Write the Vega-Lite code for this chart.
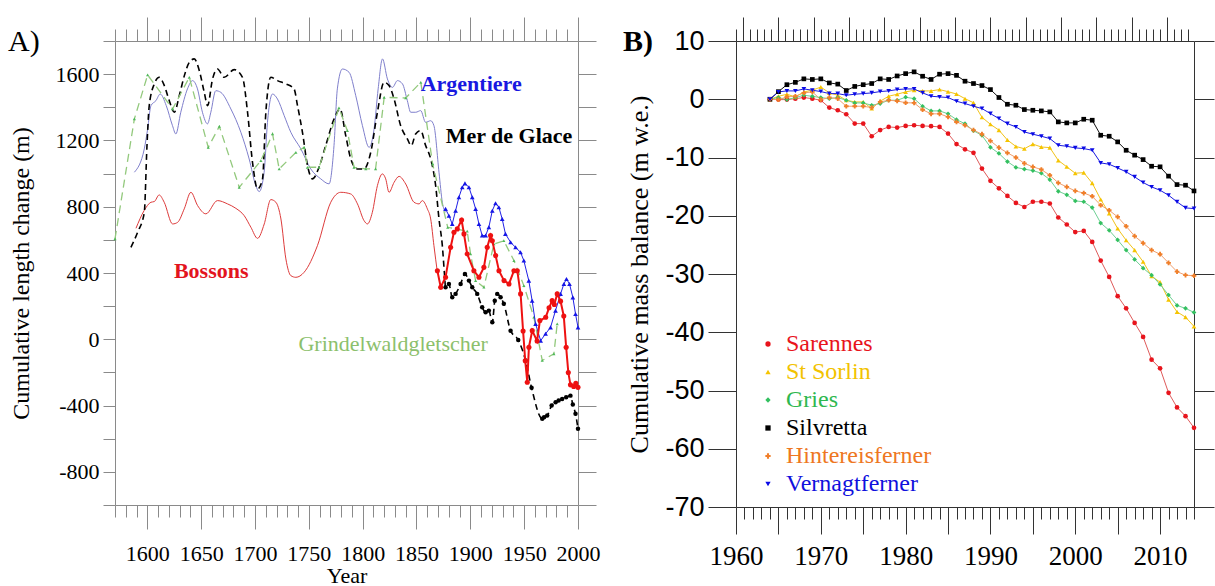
{
"$schema": "https://vega.github.io/schema/vega-lite/v6.json",
"background": "white",
"padding": {"left": 8, "top": 16, "right": 0, "bottom": 0},
"config": {"view": {"stroke": null}, "axis": {"grid": false}},
"spacing": 23,
"resolve": {"scale": {"color": "independent", "shape": "independent", "stroke": "independent"}},
"datasets": {
"A": [
{"s":"Bs","yr":1589.5,"v":670},{"s":"Bs","yr":1597,"v":776},{"s":"Bs","yr":1603.4,"v":827},{"s":"Bs","yr":1606.5,"v":831},{"s":"Bs","yr":1611,"v":871},{"s":"Bs","yr":1615.7,"v":827},{"s":"Bs","yr":1623.5,"v":696},{"s":"Bs","yr":1628.2,"v":706},{"s":"Bs","yr":1634.3,"v":787},{"s":"Bs","yr":1640.5,"v":887},{"s":"Bs","yr":1646.7,"v":807},{"s":"Bs","yr":1654.4,"v":757},{"s":"Bs","yr":1665.2,"v":837},{"s":"Bs","yr":1674.5,"v":817},{"s":"Bs","yr":1682.3,"v":790},{"s":"Bs","yr":1690,"v":746},{"s":"Bs","yr":1696.2,"v":676},{"s":"Bs","yr":1702.4,"v":609},{"s":"Bs","yr":1708.6,"v":696},{"s":"Bs","yr":1714.7,"v":843},{"s":"Bs","yr":1719.4,"v":827},{"s":"Bs","yr":1724.1,"v":726},{"s":"Bs","yr":1728.7,"v":485},{"s":"Bs","yr":1733.3,"v":384},{"s":"Bs","yr":1738,"v":374},{"s":"Bs","yr":1745.6,"v":404},{"s":"Bs","yr":1758,"v":565},{"s":"Bs","yr":1770.4,"v":827},{"s":"Bs","yr":1779.7,"v":887},{"s":"Bs","yr":1788.9,"v":877},{"s":"Bs","yr":1795.2,"v":817},{"s":"Bs","yr":1801.3,"v":716},{"s":"Bs","yr":1804.4,"v":696},{"s":"Bs","yr":1809,"v":766},{"s":"Bs","yr":1813.7,"v":927},{"s":"Bs","yr":1818.3,"v":998},{"s":"Bs","yr":1821.4,"v":968},{"s":"Bs","yr":1824.5,"v":887},{"s":"Bs","yr":1829.2,"v":947},{"s":"Bs","yr":1833.8,"v":983},{"s":"Bs","yr":1840,"v":937},{"s":"Bs","yr":1847.7,"v":827},{"s":"Bs","yr":1852.4,"v":817},{"s":"Bs","yr":1855.4,"v":837},{"s":"Bs","yr":1860.1,"v":787},{"s":"Bs","yr":1863.2,"v":726},{"s":"Bs","yr":1866.2,"v":565},{"s":"Bs","yr":1869.4,"v":404},
{"s":"Bo","yr":1869.4,"v":414},{"s":"Bo","yr":1872.5,"v":314},{"s":"Bo","yr":1877,"v":374},{"s":"Bo","yr":1881.7,"v":555},{"s":"Bo","yr":1884.8,"v":646},{"s":"Bo","yr":1887.9,"v":666},{"s":"Bo","yr":1891.9,"v":720},{"s":"Bo","yr":1894.1,"v":636},{"s":"Bo","yr":1897.1,"v":515},{"s":"Bo","yr":1903.3,"v":414},{"s":"Bo","yr":1908,"v":374},{"s":"Bo","yr":1912.6,"v":434},{"s":"Bo","yr":1915.7,"v":555},{"s":"Bo","yr":1918.8,"v":626},{"s":"Bo","yr":1920.4,"v":595},{"s":"Bo","yr":1923.5,"v":505},{"s":"Bo","yr":1926.6,"v":414},{"s":"Bo","yr":1931.3,"v":354},{"s":"Bo","yr":1935.9,"v":334},{"s":"Bo","yr":1940.5,"v":414},{"s":"Bo","yr":1943.6,"v":414},{"s":"Bo","yr":1946.7,"v":274},{"s":"Bo","yr":1949,"v":50},{"s":"Bo","yr":1951,"v":-130},{"s":"Bo","yr":1952.9,"v":-259},{"s":"Bo","yr":1954.4,"v":-48},{"s":"Bo","yr":1957.5,"v":52},{"s":"Bo","yr":1962,"v":-10},{"s":"Bo","yr":1964.6,"v":113},{"s":"Bo","yr":1970,"v":133},{"s":"Bo","yr":1973.1,"v":190},{"s":"Bo","yr":1976,"v":233},{"s":"Bo","yr":1978,"v":210},{"s":"Bo","yr":1980.7,"v":274},{"s":"Bo","yr":1983.8,"v":230},{"s":"Bo","yr":1986.8,"v":140},{"s":"Bo","yr":1989,"v":-48},{"s":"Bo","yr":1991,"v":-200},{"s":"Bo","yr":1993,"v":-275},{"s":"Bo","yr":1996,"v":-285},{"s":"Bo","yr":1998,"v":-265},{"s":"Bo","yr":2000,"v":-290},
{"s":"As","yr":1588,"v":1008},{"s":"As","yr":1597.2,"v":1149},{"s":"As","yr":1600.3,"v":1269},{"s":"As","yr":1603.4,"v":1410},{"s":"As","yr":1608,"v":1440},{"s":"As","yr":1612,"v":1480},{"s":"As","yr":1617.6,"v":1410},{"s":"As","yr":1623.4,"v":1289},{"s":"As","yr":1626.5,"v":1239},{"s":"As","yr":1631.1,"v":1370},{"s":"As","yr":1637.3,"v":1511},{"s":"As","yr":1642,"v":1561},{"s":"As","yr":1646.6,"v":1511},{"s":"As","yr":1651.2,"v":1370},{"s":"As","yr":1655.9,"v":1300},{"s":"As","yr":1659,"v":1370},{"s":"As","yr":1663.6,"v":1500},{"s":"As","yr":1668.3,"v":1490},{"s":"As","yr":1677.6,"v":1390},{"s":"As","yr":1686.9,"v":1249},{"s":"As","yr":1694.6,"v":1088},{"s":"As","yr":1700.8,"v":927},{"s":"As","yr":1703.9,"v":891},{"s":"As","yr":1708.5,"v":1008},{"s":"As","yr":1711.6,"v":1309},{"s":"As","yr":1716.3,"v":1480},{"s":"As","yr":1720.9,"v":1450},{"s":"As","yr":1727.1,"v":1350},{"s":"As","yr":1733.3,"v":1249},{"s":"As","yr":1742.6,"v":1149},{"s":"As","yr":1751.8,"v":1028},{"s":"As","yr":1761.1,"v":968},{"s":"As","yr":1768.8,"v":938},{"s":"As","yr":1773.4,"v":1169},{"s":"As","yr":1776.5,"v":1511},{"s":"As","yr":1781.2,"v":1631},{"s":"As","yr":1787.4,"v":1611},{"s":"As","yr":1793.6,"v":1470},{"s":"As","yr":1799.8,"v":1289},{"s":"As","yr":1806,"v":1158},{"s":"As","yr":1810.6,"v":1269},{"s":"As","yr":1814.4,"v":1511},{"s":"As","yr":1818.4,"v":1692},{"s":"As","yr":1823,"v":1571},{"s":"As","yr":1827.7,"v":1520},{"s":"As","yr":1832.3,"v":1561},{"s":"As","yr":1837,"v":1541},{"s":"As","yr":1841.5,"v":1440},{"s":"As","yr":1844.6,"v":1370},{"s":"As","yr":1849.3,"v":1370},{"s":"As","yr":1853.9,"v":1380},{"s":"As","yr":1858.5,"v":1309},{"s":"As","yr":1863.2,"v":1319},{"s":"As","yr":1866.2,"v":1289},{"s":"As","yr":1870.9,"v":1008},{"s":"As","yr":1874,"v":827},{"s":"As","yr":1877,"v":766},
{"s":"Ao","yr":1877,"v":787},{"s":"Ao","yr":1880.1,"v":746},{"s":"Ao","yr":1883.2,"v":696},{"s":"Ao","yr":1886.3,"v":776},{"s":"Ao","yr":1889.4,"v":857},{"s":"Ao","yr":1892.5,"v":917},{"s":"Ao","yr":1895,"v":941},{"s":"Ao","yr":1898.7,"v":917},{"s":"Ao","yr":1901.8,"v":857},{"s":"Ao","yr":1904.9,"v":787},{"s":"Ao","yr":1908,"v":696},{"s":"Ao","yr":1911,"v":626},{"s":"Ao","yr":1914.2,"v":626},{"s":"Ao","yr":1917.2,"v":676},{"s":"Ao","yr":1920.4,"v":776},{"s":"Ao","yr":1923.4,"v":821},{"s":"Ao","yr":1926.5,"v":797},{"s":"Ao","yr":1929.6,"v":726},{"s":"Ao","yr":1932.6,"v":636},{"s":"Ao","yr":1937.4,"v":585},{"s":"Ao","yr":1942,"v":555},{"s":"Ao","yr":1946.6,"v":525},{"s":"Ao","yr":1949.7,"v":475},{"s":"Ao","yr":1954.3,"v":354},{"s":"Ao","yr":1957.4,"v":233},{"s":"Ao","yr":1960.6,"v":93},{"s":"Ao","yr":1965.3,"v":-8},{"s":"Ao","yr":1969.9,"v":33},{"s":"Ao","yr":1974.5,"v":72},{"s":"Ao","yr":1979.1,"v":173},{"s":"Ao","yr":1983.8,"v":274},{"s":"Ao","yr":1986.9,"v":334},{"s":"Ao","yr":1989.3,"v":364},{"s":"Ao","yr":1992.1,"v":334},{"s":"Ao","yr":1995.2,"v":253},{"s":"Ao","yr":1997.7,"v":153},{"s":"Ao","yr":2000,"v":72},
{"s":"Ms","yr":1584.8,"v":555},{"s":"Ms","yr":1591,"v":646},{"s":"Ms","yr":1597.2,"v":766},{"s":"Ms","yr":1599.7,"v":1169},{"s":"Ms","yr":1601.8,"v":1410},{"s":"Ms","yr":1606.5,"v":1541},{"s":"Ms","yr":1611.1,"v":1581},{"s":"Ms","yr":1615.8,"v":1531},{"s":"Ms","yr":1620.4,"v":1440},{"s":"Ms","yr":1625.1,"v":1370},{"s":"Ms","yr":1629.7,"v":1470},{"s":"Ms","yr":1634.4,"v":1591},{"s":"Ms","yr":1639,"v":1671},{"s":"Ms","yr":1643.6,"v":1692},{"s":"Ms","yr":1648.3,"v":1621},{"s":"Ms","yr":1652.9,"v":1490},{"s":"Ms","yr":1656,"v":1410},{"s":"Ms","yr":1660.6,"v":1571},{"s":"Ms","yr":1665.2,"v":1631},{"s":"Ms","yr":1671.4,"v":1581},{"s":"Ms","yr":1680.7,"v":1627},{"s":"Ms","yr":1688.4,"v":1581},{"s":"Ms","yr":1693.1,"v":1370},{"s":"Ms","yr":1697.7,"v":1068},{"s":"Ms","yr":1702.4,"v":907},{"s":"Ms","yr":1707,"v":968},{"s":"Ms","yr":1710.1,"v":1370},{"s":"Ms","yr":1714.7,"v":1581},{"s":"Ms","yr":1720.9,"v":1561},{"s":"Ms","yr":1728.6,"v":1541},{"s":"Ms","yr":1736.3,"v":1511},{"s":"Ms","yr":1739.5,"v":1410},{"s":"Ms","yr":1744.1,"v":1249},{"s":"Ms","yr":1748.8,"v":1048},{"s":"Ms","yr":1753.3,"v":968},{"s":"Ms","yr":1759.5,"v":1038},{"s":"Ms","yr":1765.7,"v":1169},{"s":"Ms","yr":1773.5,"v":1330},{"s":"Ms","yr":1779,"v":1390},{"s":"Ms","yr":1784.3,"v":1229},{"s":"Ms","yr":1789,"v":1088},{"s":"Ms","yr":1795.1,"v":1028},{"s":"Ms","yr":1801.3,"v":1028},{"s":"Ms","yr":1807.5,"v":1128},{"s":"Ms","yr":1813.7,"v":1370},{"s":"Ms","yr":1819.9,"v":1551},{"s":"Ms","yr":1824.5,"v":1531},{"s":"Ms","yr":1829.2,"v":1450},{"s":"Ms","yr":1835.3,"v":1289},{"s":"Ms","yr":1841.5,"v":1209},{"s":"Ms","yr":1845.2,"v":1169},{"s":"Ms","yr":1849.2,"v":1239},{"s":"Ms","yr":1853.9,"v":1259},{"s":"Ms","yr":1858.5,"v":1169},{"s":"Ms","yr":1863.2,"v":1088},{"s":"Ms","yr":1867.8,"v":927},{"s":"Ms","yr":1870.9,"v":726},{"s":"Ms","yr":1874,"v":565},{"s":"Ms","yr":1876.1,"v":384},
{"s":"Mo","yr":1877,"v":314},{"s":"Mo","yr":1880.1,"v":334},{"s":"Mo","yr":1883.2,"v":253},{"s":"Mo","yr":1886.3,"v":274},{"s":"Mo","yr":1891,"v":334},{"s":"Mo","yr":1895,"v":394},{"s":"Mo","yr":1898.7,"v":354},{"s":"Mo","yr":1901.8,"v":314},{"s":"Mo","yr":1906.4,"v":274},{"s":"Mo","yr":1911,"v":193},{"s":"Mo","yr":1914.2,"v":163},{"s":"Mo","yr":1917.2,"v":173},{"s":"Mo","yr":1920.4,"v":103},{"s":"Mo","yr":1922.7,"v":233},{"s":"Mo","yr":1925,"v":274},{"s":"Mo","yr":1928.1,"v":253},{"s":"Mo","yr":1931.1,"v":214},{"s":"Mo","yr":1937.4,"v":52},{"s":"Mo","yr":1944.5,"v":-4},{"s":"Mo","yr":1951.3,"v":-128},{"s":"Mo","yr":1956.9,"v":-293},{"s":"Mo","yr":1966.8,"v":-480},{"s":"Mo","yr":1968.5,"v":-470},{"s":"Mo","yr":1971.4,"v":-460},{"s":"Mo","yr":1975.5,"v":-400},{"s":"Mo","yr":1979.2,"v":-380},{"s":"Mo","yr":1982,"v":-370},{"s":"Mo","yr":1985.3,"v":-360},{"s":"Mo","yr":1989,"v":-350},{"s":"Mo","yr":1993,"v":-340},{"s":"Mo","yr":1995.2,"v":-394},{"s":"Mo","yr":1997.7,"v":-450},{"s":"Mo","yr":2000,"v":-540},
{"s":"G","yr":1570,"v":606},{"s":"G","yr":1588,"v":1330},{"s":"G","yr":1600.3,"v":1595},{"s":"G","yr":1623.5,"v":1390},{"s":"G","yr":1639,"v":1581},{"s":"G","yr":1656.6,"v":1158},{"s":"G","yr":1666.9,"v":1285},{"s":"G","yr":1685.4,"v":917},{"s":"G","yr":1705.5,"v":1078},{"s":"G","yr":1716.3,"v":1239},{"s":"G","yr":1722.5,"v":1028},{"s":"G","yr":1738,"v":1128},{"s":"G","yr":1745.6,"v":1158},{"s":"G","yr":1748.7,"v":1038},{"s":"G","yr":1759.5,"v":1038},{"s":"G","yr":1778,"v":1396},{"s":"G","yr":1785.8,"v":1259},{"s":"G","yr":1792,"v":1038},{"s":"G","yr":1802.9,"v":1028},{"s":"G","yr":1812,"v":1028},{"s":"G","yr":1820,"v":1460},{"s":"G","yr":1840,"v":1456},{"s":"G","yr":1854,"v":1551},{"s":"G","yr":1865,"v":1058},{"s":"G","yr":1879,"v":676},{"s":"G","yr":1897.1,"v":652},{"s":"G","yr":1900.2,"v":515},{"s":"G","yr":1904.9,"v":354},{"s":"G","yr":1912.6,"v":314},{"s":"G","yr":1921.9,"v":575},{"s":"G","yr":1931.1,"v":595},{"s":"G","yr":1940.5,"v":475},{"s":"G","yr":1949.7,"v":324},{"s":"G","yr":1959,"v":133},{"s":"G","yr":1966.8,"v":-128},{"s":"G","yr":1977.6,"v":-88},{"s":"G","yr":1980.7,"v":93}
],
"Alab": [
{"t":"Argentiere","yr":1853.9,"v":1543},
{"t":"Mer de Glace","yr":1877.1,"v":1229},
{"t":"Bossons","yr":1624.7,"v":414},
{"t":"Grindelwaldgletscher","yr":1740.4,"v":-28}
],
"B": [
{"yr":1964,"Sarennes":0,"St Sorlin":0,"Gries":0,"Silvretta":0,"Hintereisferner":0,"Vernagtferner":0},
{"yr":1965,"Sarennes":-0.06,"St Sorlin":0.5,"Gries":0.29,"Silvretta":1.3,"Hintereisferner":-0.06,"Vernagtferner":1.26},
{"yr":1966,"Sarennes":-0.06,"St Sorlin":0.86,"Gries":-0.06,"Silvretta":2.5,"Hintereisferner":0.4,"Vernagtferner":1.43},
{"yr":1967,"Sarennes":0.1,"St Sorlin":0.4,"Gries":0.29,"Silvretta":2.9,"Hintereisferner":0.52,"Vernagtferner":1.43},
{"yr":1968,"Sarennes":0.29,"St Sorlin":1.26,"Gries":0.69,"Silvretta":3.5,"Hintereisferner":1.09,"Vernagtferner":1.77},
{"yr":1969,"Sarennes":0.1,"St Sorlin":1.55,"Gries":0.5,"Silvretta":3.4,"Hintereisferner":1.26,"Vernagtferner":1.55},
{"yr":1970,"Sarennes":-0.17,"St Sorlin":2.1,"Gries":0.29,"Silvretta":3.5,"Hintereisferner":-0.06,"Vernagtferner":1.32},
{"yr":1971,"Sarennes":-1.43,"St Sorlin":1.09,"Gries":0.1,"Silvretta":2.8,"Hintereisferner":0.29,"Vernagtferner":0.97},
{"yr":1972,"Sarennes":-1.89,"St Sorlin":0.69,"Gries":0.29,"Silvretta":2.6,"Hintereisferner":0.1,"Vernagtferner":0.97},
{"yr":1973,"Sarennes":-2.58,"St Sorlin":-0.17,"Gries":-0.17,"Silvretta":1.5,"Hintereisferner":-1.2,"Vernagtferner":0.69},
{"yr":1974,"Sarennes":-4.18,"St Sorlin":-0.46,"Gries":-0.63,"Silvretta":2.2,"Hintereisferner":-1.2,"Vernagtferner":0.86},
{"yr":1975,"Sarennes":-4.18,"St Sorlin":-0.46,"Gries":-0.63,"Silvretta":2.5,"Hintereisferner":-1.2,"Vernagtferner":0.97},
{"yr":1976,"Sarennes":-6.35,"St Sorlin":-1.6,"Gries":-1.03,"Silvretta":2.7,"Hintereisferner":-1.43,"Vernagtferner":1.09},
{"yr":1977,"Sarennes":-5.3,"St Sorlin":-0.34,"Gries":-0.74,"Silvretta":3.5,"Hintereisferner":-0.46,"Vernagtferner":1.32},
{"yr":1978,"Sarennes":-4.75,"St Sorlin":0.52,"Gries":-0.17,"Silvretta":3.4,"Hintereisferner":-0.17,"Vernagtferner":1.43},
{"yr":1979,"Sarennes":-4.86,"St Sorlin":0.86,"Gries":-0.17,"Silvretta":4.0,"Hintereisferner":-0.29,"Vernagtferner":1.66},
{"yr":1980,"Sarennes":-4.58,"St Sorlin":1.26,"Gries":0.35,"Silvretta":4.4,"Hintereisferner":-0.6,"Vernagtferner":1.77},
{"yr":1981,"Sarennes":-4.46,"St Sorlin":1.55,"Gries":0.1,"Silvretta":4.7,"Hintereisferner":-0.63,"Vernagtferner":1.77},
{"yr":1982,"Sarennes":-4.58,"St Sorlin":1.43,"Gries":-1.2,"Silvretta":3.95,"Hintereisferner":-1.8,"Vernagtferner":1.09},
{"yr":1983,"Sarennes":-4.63,"St Sorlin":1.43,"Gries":-2.0,"Silvretta":3.4,"Hintereisferner":-2.5,"Vernagtferner":0.52},
{"yr":1984,"Sarennes":-4.75,"St Sorlin":1.66,"Gries":-2.0,"Silvretta":4.3,"Hintereisferner":-2.5,"Vernagtferner":0.4},
{"yr":1985,"Sarennes":-5.9,"St Sorlin":1.3,"Gries":-2.5,"Silvretta":4.4,"Hintereisferner":-3.03,"Vernagtferner":0.29},
{"yr":1986,"Sarennes":-7.7,"St Sorlin":0.9,"Gries":-3.5,"Silvretta":4.1,"Hintereisferner":-3.9,"Vernagtferner":-0.34},
{"yr":1987,"Sarennes":-8.6,"St Sorlin":0.1,"Gries":-4.2,"Silvretta":3.1,"Hintereisferner":-4.46,"Vernagtferner":-0.74},
{"yr":1988,"Sarennes":-9.2,"St Sorlin":-0.6,"Gries":-5.4,"Silvretta":2.7,"Hintereisferner":-5.3,"Vernagtferner":-1.2},
{"yr":1989,"Sarennes":-11.9,"St Sorlin":-3.1,"Gries":-6.2,"Silvretta":2.35,"Hintereisferner":-6.0,"Vernagtferner":-1.6},
{"yr":1990,"Sarennes":-14.0,"St Sorlin":-4.3,"Gries":-8.25,"Silvretta":1.66,"Hintereisferner":-7.15,"Vernagtferner":-2.46},
{"yr":1991,"Sarennes":-15.3,"St Sorlin":-5.3,"Gries":-9.3,"Silvretta":0.3,"Hintereisferner":-8.3,"Vernagtferner":-3.32},
{"yr":1992,"Sarennes":-16.6,"St Sorlin":-7.0,"Gries":-10.7,"Silvretta":-0.86,"Hintereisferner":-9.2,"Vernagtferner":-4.18},
{"yr":1993,"Sarennes":-17.8,"St Sorlin":-8.1,"Gries":-11.7,"Silvretta":-1.03,"Hintereisferner":-10.0,"Vernagtferner":-4.75},
{"yr":1994,"Sarennes":-18.5,"St Sorlin":-8.5,"Gries":-12.0,"Silvretta":-1.77,"Hintereisferner":-11.0,"Vernagtferner":-5.61},
{"yr":1995,"Sarennes":-17.6,"St Sorlin":-7.7,"Gries":-12.25,"Silvretta":-1.89,"Hintereisferner":-11.6,"Vernagtferner":-6.0},
{"yr":1996,"Sarennes":-17.6,"St Sorlin":-8.2,"Gries":-12.7,"Silvretta":-2.0,"Hintereisferner":-12.07,"Vernagtferner":-6.35},
{"yr":1997,"Sarennes":-17.9,"St Sorlin":-8.3,"Gries":-13.8,"Silvretta":-2.17,"Hintereisferner":-13.05,"Vernagtferner":-6.75},
{"yr":1998,"Sarennes":-20.3,"St Sorlin":-10.5,"Gries":-15.8,"Silvretta":-3.89,"Hintereisferner":-14.36,"Vernagtferner":-7.9},
{"yr":1999,"Sarennes":-21.5,"St Sorlin":-11.6,"Gries":-16.4,"Silvretta":-4.06,"Hintereisferner":-15.05,"Vernagtferner":-8.07},
{"yr":2000,"Sarennes":-22.8,"St Sorlin":-12.7,"Gries":-17.45,"Silvretta":-4.06,"Hintereisferner":-15.74,"Vernagtferner":-8.35},
{"yr":2001,"Sarennes":-22.6,"St Sorlin":-12.6,"Gries":-17.6,"Silvretta":-3.43,"Hintereisferner":-16.1,"Vernagtferner":-8.47},
{"yr":2002,"Sarennes":-24.5,"St Sorlin":-14.4,"Gries":-18.6,"Silvretta":-3.6,"Hintereisferner":-16.65,"Vernagtferner":-8.76},
{"yr":2003,"Sarennes":-27.7,"St Sorlin":-17.2,"Gries":-21.25,"Silvretta":-6.18,"Hintereisferner":-18.2,"Vernagtferner":-10.93},
{"yr":2004,"Sarennes":-30.5,"St Sorlin":-19.6,"Gries":-22.5,"Silvretta":-6.35,"Hintereisferner":-19.06,"Vernagtferner":-11.16},
{"yr":2005,"Sarennes":-33.8,"St Sorlin":-22.2,"Gries":-24.15,"Silvretta":-7.32,"Hintereisferner":-20.2,"Vernagtferner":-11.79},
{"yr":2006,"Sarennes":-35.9,"St Sorlin":-24.2,"Gries":-25.9,"Silvretta":-8.76,"Hintereisferner":-21.8,"Vernagtferner":-12.47},
{"yr":2007,"Sarennes":-38.4,"St Sorlin":-25.9,"Gries":-27.5,"Silvretta":-9.6,"Hintereisferner":-23.5,"Vernagtferner":-13.33},
{"yr":2008,"Sarennes":-40.8,"St Sorlin":-27.9,"Gries":-29.0,"Silvretta":-10.36,"Hintereisferner":-24.7,"Vernagtferner":-14.3},
{"yr":2009,"Sarennes":-44.7,"St Sorlin":-30.4,"Gries":-30.2,"Silvretta":-11.5,"Hintereisferner":-25.9,"Vernagtferner":-15.05},
{"yr":2010,"Sarennes":-46.2,"St Sorlin":-31.4,"Gries":-31.8,"Silvretta":-11.6,"Hintereisferner":-26.6,"Vernagtferner":-15.62},
{"yr":2011,"Sarennes":-50.4,"St Sorlin":-34.4,"Gries":-33.6,"Silvretta":-13.2,"Hintereisferner":-28.1,"Vernagtferner":-16.48},
{"yr":2012,"Sarennes":-52.9,"St Sorlin":-36.5,"Gries":-35.4,"Silvretta":-14.65,"Hintereisferner":-29.6,"Vernagtferner":-17.62},
{"yr":2013,"Sarennes":-54.4,"St Sorlin":-37.4,"Gries":-35.9,"Silvretta":-14.76,"Hintereisferner":-30.2,"Vernagtferner":-18.65},
{"yr":2014,"Sarennes":-56.4,"St Sorlin":-39.0,"Gries":-36.6,"Silvretta":-15.74,"Hintereisferner":-30.3,"Vernagtferner":-18.77}
]
},
"hconcat": [
{
"width": 463, "height": 464,
"title": {"text": "A)", "anchor": "start", "frame": "group", "font": "Liberation Serif", "fontSize": 30, "fontWeight": "normal", "color": "#000", "dx": -107, "dy": 40, "offset": 0},
"data": {"name": "A"},
"resolve": {"axis": {"x": "independent", "y": "independent"}},
"layer": [
{"transform": [{"filter": "datum.s === 'Bs'"}],
 "mark": {"type": "line", "color": "#dd3b3b", "strokeWidth": 1, "interpolate": "monotone"},
 "encoding": {
  "x": {"field": "yr", "type": "quantitative", "scale": {"domain": [1570, 2000], "nice": false, "zero": false},
   "axis": {"orient": "bottom", "values": [1570,1580,1590,1600,1610,1620,1630,1640,1650,1660,1670,1680,1690,1700,1710,1720,1730,1740,1750,1760,1770,1780,1790,1800,1810,1820,1830,1840,1850,1860,1870,1880,1890,1900,1910,1920,1930,1940,1950,1960,1970,1980,1990,2000],
    "format": "d", "labelExpr": "datum.value % 50 === 0 ? datum.label : ''",
    "tickSize": {"condition": {"test": "datum.value % 50 === 0", "value": 24}, "value": 12},
    "labelFont": "Liberation Serif", "labelFontSize": 22, "labelColor": "#000", "labelPadding": 14, "labelFlush": false, "labelOverlap": false, "labelBound": false,
    "title": "Year", "titleFont": "Liberation Serif", "titleFontSize": 22, "titleFontWeight": "normal", "titleColor": "#000", "titlePadding": 1,
    "domainColor": "#8a8a8a", "tickColor": "#8a8a8a"}},
  "y": {"field": "v", "type": "quantitative", "scale": {"domain": [-1000, 1800], "nice": false, "zero": false},
   "axis": {"orient": "left", "values": [-1000,-800,-600,-400,-200,0,200,400,600,800,1000,1200,1400,1600,1800],
    "format": "d", "labelExpr": "datum.value % 400 === 0 && datum.value >= -800 && datum.value <= 1600 ? replace(datum.label, '\u2212', '-') : ''",
    "tickSize": 12, "labelFont": "Liberation Serif", "labelFontSize": 22, "labelColor": "#000", "labelPadding": 4, "labelOverlap": false, "labelFlush": false, "labelBound": false,
    "title": "Cumulative length change (m)", "titleFont": "Liberation Serif", "titleFontSize": 24, "titleFontWeight": "normal", "titleColor": "#000", "titlePadding": 22,
    "domainColor": "#8a8a8a", "tickColor": "#8a8a8a"}}
 }},
{"transform": [{"filter": "datum.s === 'As'"}],
 "mark": {"type": "line", "color": "#7f7fcc", "strokeWidth": 1, "interpolate": "monotone"},
 "encoding": {
  "x": {"field": "yr", "type": "quantitative", "scale": {"domain": [1570, 2000], "nice": false, "zero": false},
   "axis": {"orient": "top", "values": [1570,1580,1590,1600,1610,1620,1630,1640,1650,1660,1670,1680,1690,1700,1710,1720,1730,1740,1750,1760,1770,1780,1790,1800,1810,1820,1830,1840,1850,1860,1870,1880,1890,1900,1910,1920,1930,1940,1950,1960,1970,1980,1990,2000],
    "labels": false, "title": null,
    "tickSize": {"condition": {"test": "datum.value % 50 === 0", "value": 24}, "value": 12},
    "domainColor": "#8a8a8a", "tickColor": "#8a8a8a"}},
  "y": {"field": "v", "type": "quantitative", "scale": {"domain": [-1000, 1800], "nice": false, "zero": false},
   "axis": {"orient": "right", "values": [-1000,-800,-600,-400,-200,0,200,400,600,800,1000,1200,1400,1600,1800],
    "labels": false, "title": null, "tickSize": 18, "domainColor": "#8a8a8a", "tickColor": "#8a8a8a"}}
 }},
{"transform": [{"filter": "datum.s === 'Ms' || datum.s === 'Mo'"}],
 "mark": {"type": "line", "color": "#000", "strokeWidth": 1.6, "strokeDash": [6, 4], "interpolate": "monotone"},
 "encoding": {"x": {"field": "yr", "type": "quantitative", "axis": null}, "y": {"field": "v", "type": "quantitative", "axis": null}}},
{"transform": [{"filter": "datum.s === 'G'"}],
 "mark": {"type": "line", "color": "#93c97d", "strokeWidth": 1.3, "strokeDash": [8, 5]},
 "encoding": {"x": {"field": "yr", "type": "quantitative", "axis": null}, "y": {"field": "v", "type": "quantitative", "axis": null}}},
{"transform": [{"filter": "datum.s === 'G'"}],
 "mark": {"type": "point", "shape": "triangle-up", "filled": true, "color": "#4fb85a", "size": 10, "opacity": 1},
 "encoding": {"x": {"field": "yr", "type": "quantitative", "axis": null}, "y": {"field": "v", "type": "quantitative", "axis": null}}},
{"transform": [{"filter": "datum.s === 'Ao'"}],
 "mark": {"type": "line", "color": "#2020e6", "strokeWidth": 1},
 "encoding": {"x": {"field": "yr", "type": "quantitative", "axis": null}, "y": {"field": "v", "type": "quantitative", "axis": null}}},
{"transform": [{"filter": "datum.s === 'Ao'"}],
 "mark": {"type": "point", "shape": "triangle-up", "filled": true, "color": "#1515e6", "size": 22, "opacity": 1},
 "encoding": {"x": {"field": "yr", "type": "quantitative", "axis": null}, "y": {"field": "v", "type": "quantitative", "axis": null}}},
{"transform": [{"filter": "datum.s === 'Mo'"}],
 "mark": {"type": "point", "shape": "circle", "filled": true, "color": "#000", "size": 20, "opacity": 1},
 "encoding": {"x": {"field": "yr", "type": "quantitative", "axis": null}, "y": {"field": "v", "type": "quantitative", "axis": null}}},
{"transform": [{"filter": "datum.s === 'Bo'"}],
 "mark": {"type": "line", "color": "#ee1111", "strokeWidth": 2},
 "encoding": {"x": {"field": "yr", "type": "quantitative", "axis": null}, "y": {"field": "v", "type": "quantitative", "axis": null}}},
{"transform": [{"filter": "datum.s === 'Bo'"}],
 "mark": {"type": "point", "shape": "circle", "filled": true, "color": "#ee1111", "size": 26, "opacity": 1},
 "encoding": {"x": {"field": "yr", "type": "quantitative", "axis": null}, "y": {"field": "v", "type": "quantitative", "axis": null}}},
{"data": {"name": "Alab"}, "transform": [{"filter": "datum.t !== 'Grindelwaldgletscher'"}],
 "mark": {"type": "text", "font": "Liberation Serif", "fontSize": 22, "fontWeight": "bold", "align": "left", "baseline": "middle"},
 "encoding": {"x": {"field": "yr", "type": "quantitative", "axis": null}, "y": {"field": "v", "type": "quantitative", "axis": null}, "text": {"field": "t"},
  "color": {"field": "t", "type": "nominal", "legend": null, "scale": {"domain": ["Argentiere", "Mer de Glace", "Bossons"], "range": ["#1818e0", "#000000", "#e3141e"]}}}},
{"data": {"name": "Alab"}, "transform": [{"filter": "datum.t === 'Grindelwaldgletscher'"}],
 "mark": {"type": "text", "font": "Liberation Serif", "fontSize": 22, "fontWeight": "normal", "align": "left", "baseline": "middle", "color": "#8cc06c"},
 "encoding": {"x": {"field": "yr", "type": "quantitative", "axis": null}, "y": {"field": "v", "type": "quantitative", "axis": null}, "text": {"field": "t"}}}
]
},
{
"width": 458, "height": 466,
"title": {"text": "B)", "anchor": "start", "frame": "group", "font": "Liberation Serif", "fontSize": 30, "fontWeight": "bold", "color": "#000", "dx": -113, "dy": 40, "offset": 0},
"data": {"name": "B"},
"transform": [{"fold": ["Sarennes", "St Sorlin", "Gries", "Silvretta", "Hintereisferner", "Vernagtferner"], "as": ["s", "v"]}],
"resolve": {"axis": {"x": "independent", "y": "independent"}},
"layer": [
{"mark": {"type": "line", "strokeWidth": 1},
 "encoding": {
  "x": {"field": "yr", "type": "quantitative", "scale": {"domain": [1960, 2014], "nice": false, "zero": false},
   "axis": {"orient": "bottom", "values": [1960,1961,1962,1963,1964,1965,1966,1967,1968,1969,1970,1971,1972,1973,1974,1975,1976,1977,1978,1979,1980,1981,1982,1983,1984,1985,1986,1987,1988,1989,1990,1991,1992,1993,1994,1995,1996,1997,1998,1999,2000,2001,2002,2003,2004,2005,2006,2007,2008,2009,2010,2011,2012,2013,2014],
    "format": "d", "labelExpr": "datum.value % 10 === 0 ? datum.label : ''",
    "tickSize": {"condition": {"test": "datum.value % 5 === 0", "value": 27}, "value": 12},
    "labelFont": "Liberation Serif", "labelFontSize": 27, "labelColor": "#000", "labelPadding": 9, "labelFlush": false, "labelOverlap": false, "labelBound": false,
    "title": null, "domainColor": "#333", "tickColor": "#333"}},
  "y": {"field": "v", "type": "quantitative", "scale": {"domain": [-70, 10], "nice": false, "zero": false},
   "axis": {"orient": "left", "values": [-70,-60,-50,-40,-30,-20,-10,0,10], "format": "d", "labelExpr": "replace(datum.label, '\u2212', '-')",
    "tickSize": 28, "labelFont": "Liberation Sans", "labelFontSize": 27, "labelColor": "#000", "labelPadding": 4, "labelOverlap": false, "labelFlush": false, "labelBound": false,
    "title": "Cumulative mass balance (m w.e.)", "titleFont": "Liberation Serif", "titleFontSize": 26, "titleFontWeight": "normal", "titleColor": "#000", "titlePadding": 12,
    "domainColor": "#333", "tickColor": "#333"}},
  "stroke": {"field": "s", "type": "nominal", "legend": null,
   "scale": {"domain": ["Vernagtferner", "Hintereisferner", "Silvretta", "Gries", "St Sorlin", "Sarennes"], "range": ["#1a1ae0", "#f0a070", "#111111", "#6fd095", "#f2c31a", "#df5a5a"]}}
 }},
{"mark": {"type": "point", "filled": true, "size": 22, "opacity": 1},
 "encoding": {
  "x": {"field": "yr", "type": "quantitative", "scale": {"domain": [1960, 2014], "nice": false, "zero": false},
   "axis": {"orient": "top", "values": [1960,1960.8333,1961.6667,1962.5,1963.3333,1964.1667,1965,1965.8333,1966.6667,1967.5,1968.3333,1969.1667,1970,1970.8333,1971.6667,1972.5,1973.3333,1974.1667,1975,1975.8333,1976.6667,1977.5,1978.3333,1979.1667,1980,1980.8333,1981.6667,1982.5,1983.3333,1984.1667,1985,1985.8333,1986.6667,1987.5,1988.3333,1989.1667,1990,1990.8333,1991.6667,1992.5,1993.3333,1994.1667,1995,1995.8333,1996.6667,1997.5,1998.3333,1999.1667,2000,2000.8333,2001.6667,2002.5,2003.3333,2004.1667,2005,2005.8333,2006.6667,2007.5,2008.3333,2009.1667,2010,2010.8333,2011.6667,2012.5,2013.3333],
    "labels": false, "title": null,
    "tickSize": {"condition": {"test": "round((datum.value - 1960) * 1.2) % 5 === 1", "value": 24}, "value": 12},
    "domainColor": "#333", "tickColor": "#333"}},
  "y": {"field": "v", "type": "quantitative", "scale": {"domain": [-70, 10], "nice": false, "zero": false},
   "axis": {"orient": "right", "values": [-70,-60,-50,-40,-30,-20,-10,0,10], "labels": false, "title": null, "tickSize": 20, "domainColor": "#333", "tickColor": "#333"}},
  "color": {"field": "s", "type": "nominal",
   "scale": {"domain": ["Sarennes", "St Sorlin", "Gries", "Silvretta", "Hintereisferner", "Vernagtferner"], "range": ["#e8141c", "#f5c400", "#33c060", "#000000", "#f07f2a", "#0a0ae6"]},
   "legend": {"orient": "none", "legendX": 20, "legendY": 291, "title": null, "labelFont": "Liberation Serif", "labelFontSize": 24, "symbolSize": 28, "rowPadding": 4, "labelOffset": 6,
    "labelColor": {"expr": "datum.value === 'Sarennes' ? '#e8141c' : datum.value === 'St Sorlin' ? '#f2c200' : datum.value === 'Gries' ? '#2fb84f' : datum.value === 'Silvretta' ? '#000000' : datum.value === 'Hintereisferner' ? '#ee7722' : '#1010dd'"}}},
  "shape": {"field": "s", "type": "nominal",
   "scale": {"domain": ["Sarennes", "St Sorlin", "Gries", "Silvretta", "Hintereisferner", "Vernagtferner"], "range": ["circle", "triangle-up", "diamond", "square", "cross", "triangle-down"]},
   "legend": {"orient": "none", "legendX": 20, "legendY": 291, "title": null, "labelFont": "Liberation Serif", "labelFontSize": 24, "symbolSize": 28, "rowPadding": 4, "labelOffset": 6,
    "labelColor": {"expr": "datum.value === 'Sarennes' ? '#e8141c' : datum.value === 'St Sorlin' ? '#f2c200' : datum.value === 'Gries' ? '#2fb84f' : datum.value === 'Silvretta' ? '#000000' : datum.value === 'Hintereisferner' ? '#ee7722' : '#1010dd'"}}}
 }}
]
}
]
}
